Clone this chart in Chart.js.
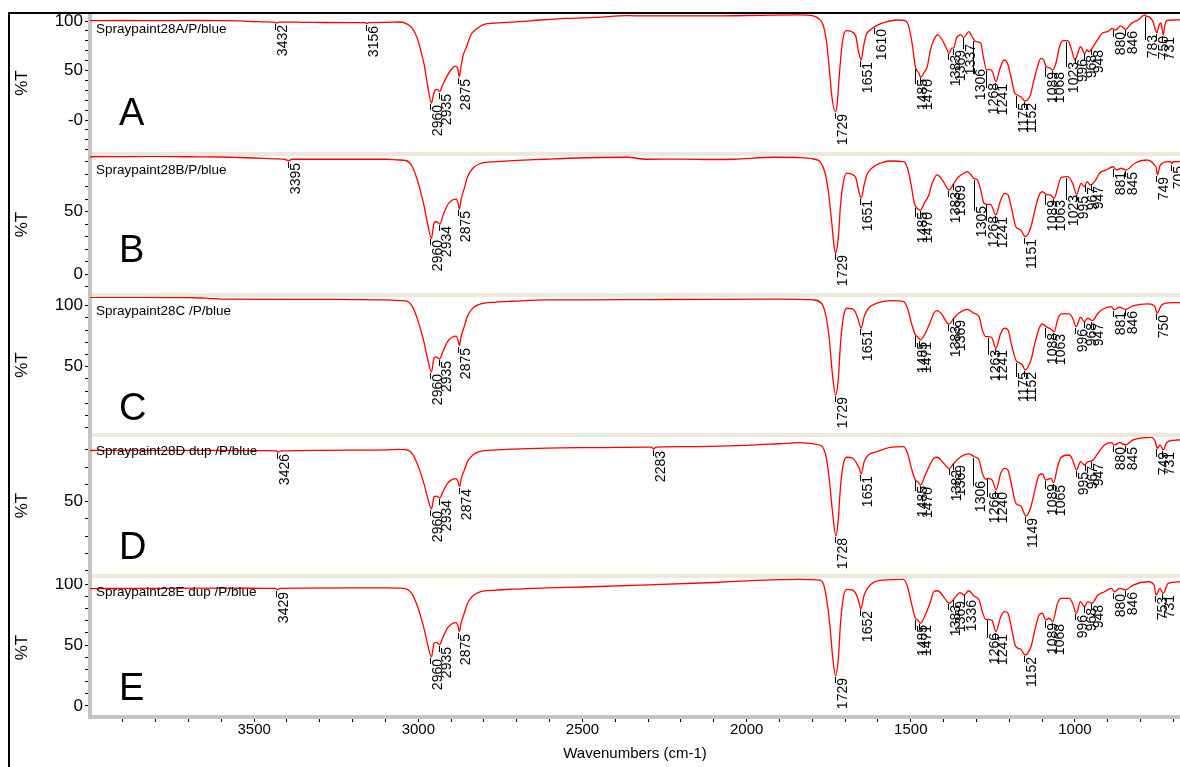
<!DOCTYPE html>
<html>
<head>
<meta charset="utf-8">
<script src="https://cdn.jsdelivr.net/npm/chart.js@4.4.0/dist/chart.umd.min.js"></script>
<style>
html,body{margin:0;padding:0;background:#fff;width:1180px;height:767px;overflow:hidden;}
#frame{position:absolute;left:8px;top:12px;width:1300px;height:900px;border-left:2px solid #000;border-top:2px solid #000;}
.band{position:absolute;left:92px;width:1088px;height:4px;background:#ece9d8;}
#ybar{position:absolute;left:88px;top:14px;width:4px;height:705px;background:#c4c4c4;}
canvas{position:absolute;left:0;}
</style>
</head>
<body>
<div id="frame"></div>
<div id="ybar"></div>
<div class="band" style="top:152px"></div>
<div class="band" style="top:293px"></div>
<div class="band" style="top:433px"></div>
<div class="band" style="top:574px"></div>
<canvas id="cA" width="1180" height="138" style="top:14px;width:1180px;height:138px"></canvas>
<canvas id="cB" width="1180" height="137" style="top:156px;width:1180px;height:137px"></canvas>
<canvas id="cC" width="1180" height="136" style="top:297px;width:1180px;height:136px"></canvas>
<canvas id="cD" width="1180" height="137" style="top:437px;width:1180px;height:137px"></canvas>
<canvas id="cE" width="1180" height="189" style="top:578px;width:1180px;height:189px"></canvas>
<script>
// ---------------- data (wavenumber cm-1, %T) ----------------
const nameA = 'Spraypaint28A/P/blue';
const nameB = 'Spraypaint28B/P/blue';
const nameC = 'Spraypaint28C /P/blue';
const nameD = 'Spraypaint28D dup /P/blue';
const nameE = 'Spraypaint28E dup /P/blue';

const xTickLabels = [3500, 3000, 2500, 2000, 1500, 1000];
const xTitle = 'Wavenumbers (cm-1)';
const yTitle = '%T';

const yTicksA = [100, 50, 0];   const yTextA = ['100', '50', '-0'];
const yTicksB = [50, 0];        const yTextB = ['50', '0'];
const yTicksC = [100, 50];      const yTextC = ['100', '50'];
const yTicksD = [50];           const yTextD = ['50'];
const yTicksE = [100, 50, 0];   const yTextE = ['100', '50', '0'];

const peaksA = [3432,3156,2960,2935,2875,1729,1651,1610,1485,1470,1383,1369,1337,1306,1268,1241,1175,1152,1089,1068,1023,996,968,948,880,846,783,750,731];
const peaksB = [3395,2960,2934,2875,1729,1651,1485,1470,1383,1369,1305,1268,1241,1151,1089,1063,1023,995,967,947,881,845,749,705];
const peaksC = [2960,2935,2875,1729,1651,1485,1471,1383,1369,1263,1241,1175,1152,1088,1063,996,968,947,881,846,750];
const peaksD = [3426,2960,2934,2874,2283,1728,1651,1485,1470,1382,1369,1306,1266,1240,1149,1089,1065,995,967,947,880,845,749,731];
const peaksE = [3429,2960,2935,2875,1729,1652,1485,1471,1383,1369,1336,1266,1241,1152,1089,1068,996,968,948,880,846,753,731];

const spectrumA = [
[4000,100.4],[3900,100.5],[3800,100.3],[3700,100.6],[3620,100.4],[3545,100.2],[3520,99.6],[3470,99.2],[3440,98.8],[3432,98.0],[3424,98.9],[3350,98.7],[3280,98.5],[3200,98.4],[3162,98.3],[3156,97.4],[3150,98.4],[3100,98.6],[3060,99.0],
[3038,97.6],[3018,92.6],[3003,82.5],[2993,70.7],[2982,55.6],[2972,35.4],[2960,16.9],[2954,25.3],[2948,30.3],[2942,31.0],[2935,28.6],[2926,35.4],[2916,42.1],[2901,50.5],[2887,54.5],[2880,52.2],[2875,43.7],[2870,53.8],[2863,65.7],[2853,74.0],[2840,85.9],[2824,91.6],[2794,97.0],[2743,98.3],[2692,99.3],[2630,101.0],[2549,102.7],[2457,103.7],[2365,105.4],[2304,105.1],[2100,105.1],[1927,106.0],[1838,106.1],[1797,105.1],
[1782,102.7],[1767,96.0],[1756,77.5],[1746,43.7],[1739,20.2],[1729,8.4],[1724,16.9],[1718,43.7],[1711,70.7],[1703,87.6],[1695,90.2],[1680,89.2],[1667,84.1],[1660,70.7],[1651,60.6],[1644,74.0],[1636,85.9],[1624,90.9],[1610,94.3],[1593,97.0],[1573,99.3],[1542,101.0],[1517,100.3],[1506,94.3],[1496,77.5],[1486,53.8],[1481,49.5],[1476,48.0],[1470,43.1],[1461,47.2],[1450,53.8],[1440,70.7],[1430,80.8],[1418,85.9],[1404,80.8],[1389,70.7],[1383,67.3],[1375,72.5],[1369,73.0],[1361,82.5],[1348,85.9],[1338,83.5],[1323,89.2],[1313,84.1],[1302,79.1],[1287,77.5],[1279,63.9],[1269,50.5],[1261,51.2],[1251,48.8],[1241,38.7],[1228,52.2],[1216,60.6],[1206,57.9],[1195,43.7],[1183,27.0],[1175,25.3],[1163,22.9],[1152,19.2],[1136,25.3],[1126,38.7],[1114,53.8],[1104,62.3],[1095,60.6],[1089,55.0],[1075,52.2],[1068,50.5],[1058,57.3],[1047,74.0],[1037,80.1],[1022,80.1],[1010,70.7],[1000,60.6],[983,74.0],[971,67.3],[963,70.7],[958,69.0],[948,72.4],[932,80.8],[917,87.6],[901,89.2],[886,92.5],[876,90.9],[861,95.0],[846,91.6],[828,97.6],[808,101.0],[787,106.1],[783,105.0],[775,104.4],[762,99.3],[755,91.0],[750,88.0],[745,95.0],[738,98.0],[731,86.0],[726,96.0],[720,100.5],[700,101.0],[680,101.2]
];

const spectrumB = [
[4000,94.0],[3900,94.2],[3800,94.3],[3700,94.0],[3600,93.8],[3560,93.5],[3500,93.0],[3440,92.3],[3405,91.8],[3395,90.8],[3385,92.0],[3300,92.0],[3200,92.0],[3100,92.0],
[3059,91.4],[3038,91.0],[3018,86.0],[3003,75.4],[2993,66.0],[2982,54.0],[2972,40.7],[2960,28.6],[2952,41.1],[2945,41.9],[2934,40.1],[2926,46.0],[2911,55.3],[2896,59.3],[2885,60.1],[2879,57.0],[2875,51.9],[2869,60.7],[2860,68.7],[2850,78.0],[2834,84.8],[2814,88.2],[2763,90.1],[2712,90.9],[2610,92.0],[2539,92.8],[2365,93.6],[2304,92.0],[2202,92.1],[2100,91.8],[2039,92.0],[1916,93.6],[1838,93.3],
[1797,92.2],[1777,90.1],[1762,82.0],[1751,66.0],[1741,41.9],[1734,23.3],[1729,16.6],[1721,28.6],[1714,55.3],[1705,74.0],[1695,80.8],[1680,80.0],[1667,76.7],[1658,66.0],[1651,60.7],[1642,71.4],[1634,79.4],[1619,84.8],[1593,88.8],[1563,90.6],[1522,90.1],[1510,84.8],[1499,71.4],[1489,56.7],[1485,54.0],[1470,51.3],[1459,56.7],[1445,63.4],[1435,72.7],[1420,79.4],[1404,75.4],[1389,68.7],[1383,67.4],[1369,72.7],[1354,78.0],[1338,80.8],[1328,82.0],[1318,80.0],[1308,76.7],[1297,75.4],[1287,67.4],[1277,56.7],[1267,55.9],[1257,55.9],[1241,47.3],[1228,58.0],[1214,64.7],[1204,63.4],[1193,52.7],[1180,37.9],[1165,35.3],[1151,29.9],[1134,37.9],[1122,51.3],[1109,63.4],[1099,66.0],[1088,63.9],[1075,63.4],[1063,60.7],[1053,68.7],[1042,77.5],[1022,78.0],[1007,72.7],[995,63.9],[981,72.7],[971,70.0],[963,74.0],[953,71.4],[940,74.0],[925,80.8],[905,83.4],[884,86.0],[874,83.4],[859,84.8],[844,83.4],[818,88.8],[782,91.4],[767,90.1],[760,88.0],[752,84.8],[749,79.4],[740,87.4],[716,90.1],[708,90.0],[705,88.5],[700,90.0],[680,90.1]
];

const spectrumC = [
[4000,106.8],[3850,106.9],[3700,106.7],[3640,106.0],[3600,105.3],[3400,105.2],[3200,105.0],[3100,104.8],
[3059,104.2],[3038,103.9],[3018,99.2],[3003,89.2],[2993,80.5],[2982,69.3],[2972,56.9],[2960,45.7],[2952,57.3],[2945,58.0],[2935,56.3],[2926,61.8],[2911,70.6],[2896,74.3],[2885,75.0],[2879,72.0],[2875,67.3],[2869,75.5],[2860,83.0],[2850,91.6],[2834,98.0],[2814,101.1],[2763,102.9],[2712,103.6],[2610,104.7],[2500,104.8],[2300,105.0],[2100,105.2],[1900,105.3],
[1838,105.2],[1797,104.7],[1772,102.0],[1758,91.0],[1748,71.9],[1739,44.6],[1729,26.8],[1721,39.1],[1714,69.2],[1705,91.0],[1695,97.9],[1677,97.3],[1665,92.4],[1657,85.6],[1651,81.5],[1642,91.0],[1629,97.9],[1603,102.0],[1563,104.1],[1522,103.3],[1510,97.9],[1498,85.6],[1486,76.0],[1479,74.6],[1471,71.9],[1456,77.4],[1442,85.6],[1430,93.8],[1420,95.9],[1404,92.4],[1389,85.6],[1383,85.0],[1369,89.7],[1354,93.8],[1328,97.0],[1308,93.8],[1292,91.0],[1282,80.1],[1272,74.6],[1262,74.6],[1252,73.3],[1241,65.1],[1226,77.4],[1214,81.5],[1204,80.1],[1193,67.8],[1180,55.5],[1175,54.1],[1160,51.4],[1152,47.3],[1134,55.5],[1122,69.2],[1109,81.5],[1099,85.0],[1088,82.8],[1073,80.7],[1063,78.7],[1053,88.3],[1042,93.2],[1017,93.2],[1007,89.7],[996,82.8],[983,90.5],[971,86.9],[961,89.7],[947,87.7],[930,93.8],[910,97.9],[889,99.2],[881,96.5],[864,98.7],[846,97.0],[823,99.8],[777,101.4],[757,99.8],[750,93.8],[736,100.6],[706,102.5],[680,102.5]
];

const spectrumD = [
[4000,79.6],[3800,79.7],[3600,79.6],[3460,79.5],[3432,79.4],[3426,78.6],[3418,79.4],[3300,79.7],[3200,79.8],[3100,80.0],
[3059,80.3],[3038,80.1],[3018,77.7],[3003,71.8],[2993,66.6],[2982,59.9],[2972,52.5],[2960,45.8],[2952,52.7],[2945,53.2],[2934,52.1],[2926,55.4],[2911,60.6],[2896,62.9],[2885,63.3],[2879,61.6],[2874,58.7],[2869,63.6],[2860,68.1],[2850,73.3],[2834,77.0],[2814,78.9],[2763,79.9],[2712,80.4],[2610,81.0],[2450,81.3],[2300,81.6],[2290,81.5],[2283,80.6],[2276,81.5],[2200,81.8],[2000,82.6],[1900,83.5],
[1838,84.1],[1797,83.4],[1772,82.2],[1758,76.0],[1748,62.5],[1739,45.2],[1728,30.2],[1721,39.4],[1714,58.7],[1705,72.2],[1695,75.7],[1677,75.1],[1665,72.2],[1657,69.3],[1651,66.0],[1642,73.1],[1629,77.0],[1603,78.9],[1563,81.4],[1522,81.8],[1510,78.0],[1498,69.3],[1486,62.5],[1479,61.6],[1470,59.7],[1456,65.4],[1442,71.2],[1430,75.1],[1420,75.7],[1404,73.1],[1389,69.9],[1382,69.3],[1369,72.2],[1350,75.7],[1323,77.6],[1306,76.0],[1292,74.1],[1282,66.4],[1272,62.9],[1266,63.5],[1252,62.5],[1240,56.8],[1226,66.4],[1214,69.3],[1204,68.3],[1193,59.7],[1180,49.1],[1165,47.5],[1149,41.7],[1134,47.1],[1122,56.8],[1109,65.4],[1099,66.0],[1089,62.5],[1073,63.5],[1065,61.0],[1053,70.2],[1042,75.7],[1017,77.0],[1007,74.1],[995,68.3],[983,73.1],[971,71.2],[961,73.1],[947,73.7],[930,78.0],[910,82.8],[889,84.1],[880,82.8],[864,84.1],[845,82.8],[823,85.7],[767,87.2],[756,85.0],[749,80.9],[741,82.8],[731,79.9],[721,84.1],[700,85.5],[680,85.7]
];

const spectrumE = [
[4000,96.5],[3800,96.7],[3600,96.8],[3460,96.7],[3436,96.6],[3429,95.5],[3420,96.6],[3200,97.0],[3100,97.0],
[3059,96.8],[3038,96.3],[3018,91.7],[3003,82.2],[2993,73.8],[2982,63.0],[2972,51.1],[2960,40.3],[2952,51.4],[2945,52.2],[2935,50.5],[2926,55.8],[2911,64.2],[2896,67.8],[2885,68.5],[2879,65.7],[2875,61.1],[2869,69.0],[2860,76.2],[2850,84.5],[2834,90.5],[2814,93.6],[2763,95.2],[2712,96.0],[2610,97.0],[2500,97.8],[2300,99.5],[2100,101.5],[2000,102.8],[1900,103.8],
[1838,104.1],[1777,103.5],[1765,99.4],[1756,87.1],[1746,65.2],[1738,40.5],[1729,24.7],[1721,37.8],[1714,68.0],[1705,89.8],[1695,95.9],[1677,95.3],[1665,91.2],[1657,84.4],[1652,79.5],[1642,91.2],[1624,99.4],[1583,103.5],[1522,104.1],[1510,98.0],[1498,84.4],[1486,72.1],[1479,70.7],[1471,68.0],[1456,74.8],[1440,85.7],[1430,93.9],[1418,94.7],[1404,91.2],[1389,85.7],[1383,84.4],[1367,88.5],[1350,93.1],[1338,91.2],[1323,94.7],[1308,90.4],[1292,87.1],[1282,77.5],[1272,71.2],[1266,71.2],[1252,70.1],[1241,61.1],[1226,73.4],[1214,77.5],[1204,76.2],[1193,63.8],[1180,48.7],[1165,46.6],[1152,41.9],[1134,48.7],[1122,62.4],[1109,74.8],[1099,76.2],[1089,70.7],[1078,72.1],[1068,69.3],[1053,84.4],[1042,88.5],[1017,88.5],[1007,84.4],[996,76.2],[983,85.7],[971,81.6],[961,85.7],[948,84.4],[930,91.2],[910,93.9],[889,96.7],[880,93.9],[864,96.7],[846,95.3],[823,99.4],[777,102.1],[759,99.4],[753,91.2],[741,96.7],[731,92.6],[716,100.8],[680,102.1]
];

// ---------------- drawing ----------------
const FONT = "'Liberation Sans', Arial, sans-serif";
const X_MIN = 680, X_MAX = 4000;

function interp(data, wn) {
  if (wn >= data[0][0]) return data[0][1];
  for (let i = 1; i < data.length; i++) {
    if (wn >= data[i][0]) {
      const x0 = data[i-1][0], y0 = data[i-1][1], x1 = data[i][0], y1 = data[i][1];
      return y0 + (y1 - y0) * (wn - x0) / (x1 - x0);
    }
  }
  return data[data.length - 1][1];
}

const annotPlugin = {
  id: 'annot',
  afterDatasetsDraw(chart) {
    const cfg = chart.options.plugins.annot;
    const xs = chart.scales.x, ys = chart.scales.y, ctx = chart.ctx;
    ctx.save();
    ctx.fillStyle = '#000';
    ctx.strokeStyle = '#000';
    ctx.lineWidth = 1;
    ctx.font = '14px ' + FONT;
    cfg.peaks.forEach(wn => {
      const px = Math.round(xs.getPixelForValue(wn));
      const cy = ys.getPixelForValue(interp(cfg.data, wn));
      let maxY = cy;
      for (let p = px; p <= px + 12; p++) {
        const yy = ys.getPixelForValue(interp(cfg.data, xs.getValueForPixel(p)));
        if (yy > maxY) maxY = yy;
      }
      const top = Math.round(maxY + 2);
      ctx.beginPath();
      ctx.moveTo(px - 0.5, Math.round(cy) + 1);
      ctx.lineTo(px - 0.5, top + 5);
      ctx.stroke();
      ctx.save();
      ctx.translate(px, top);
      ctx.rotate(-Math.PI / 2);
      ctx.textAlign = 'right';
      ctx.textBaseline = 'top';
      ctx.fillText(String(wn), 0, 0);
      ctx.restore();
    });
    ctx.textAlign = 'left';
    ctx.textBaseline = 'alphabetic';
    ctx.font = '13.5px ' + FONT;
    ctx.fillText(cfg.name, 96, cfg.nameBase);
    ctx.font = '38px ' + FONT;
    ctx.fillText(cfg.letter, 119, cfg.letterBase);
    ctx.restore();
  }
};

function makePanel(p) {
  const xScale = p.showX ? {
    type: 'linear', reverse: true, min: X_MIN, max: X_MAX, position: 'bottom',
    afterFit(s) { s.height = 50; s.paddingLeft = 0; s.paddingRight = 0; },
    afterBuildTicks(s) { const t = []; for (let v = 700; v <= 3900; v += 100) t.push({value: v}); s.ticks = t; },
    ticks: { autoSkip: false, maxRotation: 0, minRotation: 0, padding: 0, color: '#000',
      font: { family: FONT, size: 15, lineHeight: 1 },
      callback: v => xTickLabels.includes(v) ? String(v) : '' },
    grid: { drawOnChartArea: false, tickLength: 5, tickColor: '#000', tickWidth: 1 },
    border: { display: true, color: '#c4c4c4', width: 4 },
    title: { display: true, text: xTitle, color: '#000', font: { family: FONT, size: 15 }, padding: { top: 0, bottom: 4 } }
  } : { type: 'linear', reverse: true, min: X_MIN, max: X_MAX, display: false };

  return new Chart(document.getElementById(p.canvas), {
    type: 'line',
    data: { datasets: [{
      data: p.data.map(d => ({ x: d[0], y: d[1] })),
      borderColor: '#ff0000', borderWidth: 1.3, pointRadius: 0, fill: false,
      cubicInterpolationMode: 'monotone'
    }] },
    options: {
      responsive: false, animation: false, devicePixelRatio: 1, events: [],
      layout: { padding: 0 },
      plugins: {
        legend: { display: false }, tooltip: { enabled: false },
        annot: { data: p.data, peaks: p.peaks, name: p.name, letter: p.letter, nameBase: p.nameBase, letterBase: p.letterBase }
      },
      scales: {
        x: xScale,
        y: {
          type: 'linear', position: 'left', min: p.min, max: p.max,
          afterFit(s) { s.width = 90; s.paddingTop = 0; s.paddingBottom = 0; },
          afterBuildTicks(s) { const t = []; for (let v = Math.ceil(p.min / 10) * 10; v <= p.max; v += 10) t.push({value: v}); s.ticks = t; },
          ticks: { autoSkip: false, padding: 2, color: '#000', font: { family: FONT, size: 17 },
            callback: v => { const i = p.yTicks.indexOf(v); return i >= 0 ? p.yText[i] : ''; } },
          grid: { drawOnChartArea: false, tickLength: 5, tickColor: '#000', tickWidth: 1 },
          border: { display: true, color: '#c4c4c4', width: 4 },
          title: { display: true, text: yTitle, color: '#000', font: { family: FONT, size: 17 }, padding: { top: 12, bottom: 0 } }
        }
      }
    },
    plugins: [annotPlugin]
  });
}

[
  { canvas: 'cA', data: spectrumA, peaks: peaksA, min: -32.3, max: 107.07, yTicks: yTicksA, yText: yTextA, name: nameA, letter: 'A', nameBase: 18.5, letterBase: 111, showX: false },
  { canvas: 'cB', data: spectrumB, peaks: peaksB, min: -15.2, max: 94.6, yTicks: yTicksB, yText: yTextB, name: nameB, letter: 'B', nameBase: 17.5, letterBase: 106, showX: false },
  { canvas: 'cC', data: spectrumC, peaks: peaksC, min: -4.3, max: 107.1, yTicks: yTicksC, yText: yTextC, name: nameC, letter: 'C', nameBase: 17.5, letterBase: 123, showX: false },
  { canvas: 'cD', data: spectrumD, peaks: peaksD, min: 8.2, max: 87.4, yTicks: yTicksD, yText: yTextD, name: nameD, letter: 'D', nameBase: 18, letterBase: 122, showX: false },
  { canvas: 'cE', data: spectrumE, peaks: peaksE, min: -9.04, max: 105.18, yTicks: yTicksE, yText: yTextE, name: nameE, letter: 'E', nameBase: 17.7, letterBase: 122, showX: true }
].forEach(makePanel);
</script>
</body>
</html>
